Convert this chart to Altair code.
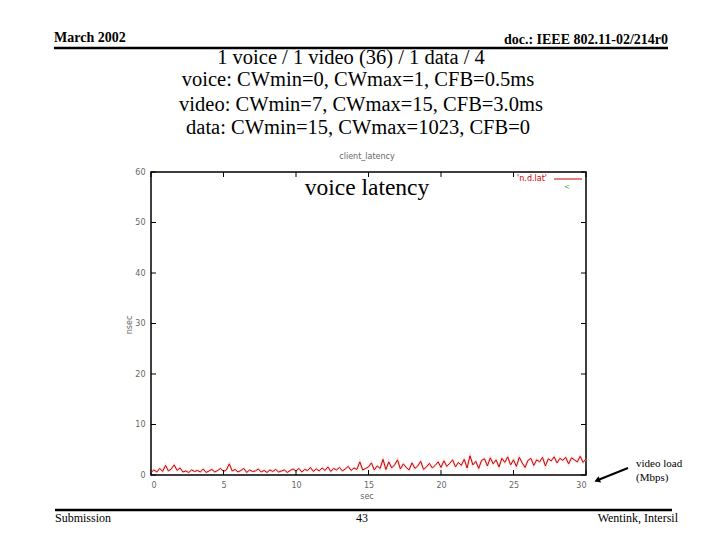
import altair as alt
import pandas as pd

# ---- data ----
t_step = 0.2
latency = [
    # 0 - 4.8 s
    0.5, 1.0, 0.6, 1.3, 0.7, 1.9, 0.8, 1.2, 2.0, 0.9, 1.4, 0.6, 0.8, 0.5, 1.0, 0.7, 0.9, 0.6, 1.2, 0.5, 0.8, 1.1, 0.6, 0.9, 1.3,
    # 5 - 9.8 s
    0.7, 1.0, 2.2, 0.8, 1.1, 0.6, 0.9, 1.3, 0.5, 1.0, 0.7, 0.8, 1.2, 0.6, 0.9, 0.5, 1.0, 0.7, 1.1, 0.6, 0.8, 1.0, 0.5, 0.9, 1.2,
    # 10 - 14.8 s
    0.8, 1.3, 0.6, 1.1, 0.9, 1.5, 0.7, 1.2, 0.8, 1.4, 0.9, 1.6, 0.7, 1.3, 1.0, 1.5, 0.8, 1.2, 1.7, 0.9, 1.4, 1.1, 2.6, 1.0, 1.3,
    # 15 - 19.8 s
    1.6, 2.4, 1.0, 1.8, 1.3, 3.1, 1.1, 2.6, 1.4, 2.0, 3.0, 1.2, 2.2, 1.5, 1.0, 2.4, 1.3, 1.8, 2.7, 1.1, 1.6, 2.3, 1.4, 1.9, 2.6,
    # 20 - 24.8 s
    1.5, 2.8, 1.7, 2.3, 3.0, 1.6, 2.5, 1.9, 3.1, 1.4, 3.8, 2.0, 2.7, 1.3, 2.9, 3.2, 1.8, 3.4, 2.2, 3.0, 1.6, 3.3, 2.5, 3.6, 2.0,
    # 25 - 30 s
    3.0, 1.7, 3.5, 2.4, 1.5, 2.9, 3.3, 1.9, 3.0, 2.6, 3.5, 1.8, 3.2, 2.8, 3.6, 2.4, 3.3, 2.9, 3.5, 2.2, 3.4, 3.0, 2.6, 3.7, 2.5, 3.2,
]
seconds = [round(i * t_step, 2) for i in range(len(latency))]
x_ticks = [0, 5, 10, 15, 20, 25, 30]
y_ticks = [0, 10, 20, 30, 40, 50, 60]

W, H = 435, 303

df = pd.DataFrame({"sec": seconds, "nsec": latency})
xt = pd.DataFrame({"v": x_ticks})
yt = pd.DataFrame({"v": y_ticks})

xs = alt.Scale(domain=[0, 30], nice=False, zero=False)
ys = alt.Scale(domain=[0, 60], nice=False)

axis_common = dict(domain=False, ticks=False, grid=False, labelFont="DejaVu Sans",
                   labelFontSize=8, labelColor="#666666", title=None)

glow = alt.Chart(df).mark_line(color="#f6b8b8", strokeWidth=2.5, opacity=0.5).encode(
    x=alt.X("sec:Q", scale=xs, axis=alt.Axis(values=x_ticks, labelPadding=6, **axis_common)),
    y=alt.Y("nsec:Q", scale=ys, axis=alt.Axis(values=y_ticks, labelPadding=6, **axis_common)),
)
line = alt.Chart(df).mark_line(color="#c80000", strokeWidth=1).encode(
    x=alt.X("sec:Q", scale=xs), y=alt.Y("nsec:Q", scale=ys)
)

# inward ticks (bottom/top, left/right)
tb = alt.Chart(xt).mark_rule(color="black").encode(x=alt.X("v:Q", scale=xs), y=alt.value(H), y2=alt.value(H - 5))
tt = alt.Chart(xt).mark_rule(color="black").encode(x=alt.X("v:Q", scale=xs), y=alt.value(0), y2=alt.value(5))
tl = alt.Chart(yt).mark_rule(color="black").encode(y=alt.Y("v:Q", scale=ys), x=alt.value(0), x2=alt.value(5))
tr = alt.Chart(yt).mark_rule(color="black").encode(y=alt.Y("v:Q", scale=ys), x=alt.value(W), x2=alt.value(W - 5))

def txt(rows, **kw):
    d = pd.DataFrame(rows, columns=["px", "py", "label"])
    return alt.Chart(d).mark_text(**kw).encode(
        x=alt.X("px:Q", scale=None), y=alt.Y("py:Q", scale=None), text="label:N"
    )

serif = "Liberation Serif"
header = txt([(-97, -134, "March 2002")], font=serif, fontSize=14, fontWeight="bold", align="left", baseline="middle")
doc = txt([(517, -132, "doc.: IEEE 802.11-02/214r0")], font=serif, fontSize=14, fontWeight="bold", align="right", baseline="middle")
titles = txt([
    (200, -114, "1 voice / 1 video (36) / 1 data / 4"),
    (207, -92, "voice: CWmin=0, CWmax=1, CFB=0.5ms"),
    (210, -67, "video: CWmin=7, CWmax=15, CFB=3.0ms"),
    (207, -44, "data: CWmin=15, CWmax=1023, CFB=0"),
], font=serif, fontSize=20.5, align="center", baseline="middle")
footer_l = txt([(-96, 346, "Submission")], font=serif, fontSize=12, align="left", baseline="middle")
footer_c = txt([(211, 346, "43")], font=serif, fontSize=12, align="center", baseline="middle")
footer_r = txt([(527, 346, "Wentink, Intersil")], font=serif, fontSize=12, align="right", baseline="middle")
video = txt([(485, 292, "video load"), (485, 306, "(Mbps)")], font=serif, fontSize=11, align="left", baseline="middle")
voice = txt([(216, 16, "voice latency")], font=serif, fontSize=23.5, align="center", baseline="middle")
gtitle = txt([(216, -15, "client_latency")], font="DejaVu Sans", fontSize=8, color="#666666", align="center", baseline="middle")
xtitle = txt([(216, 325, "sec")], font="DejaVu Sans", fontSize=8, color="#666666", align="center", baseline="middle")
ytitle = txt([(-21, 153, "nsec")], font="DejaVu Sans", fontSize=8, color="#666666", align="center", baseline="middle", angle=270)
legend_t = txt([(396, 7, "'n.d.lat'")], font="DejaVu Sans", fontSize=8, color="#cc0000", align="right", baseline="middle")
legend_g = txt([(416, 15, "<")], font="DejaVu Sans", fontSize=7, color="#33aa33", align="center", baseline="middle")

def hline(x1, x2, yv, width, color="black"):
    d = pd.DataFrame({"a": [x1], "b": [x2], "c": [yv]})
    return alt.Chart(d).mark_rule(color=color, strokeWidth=width).encode(
        x=alt.X("a:Q", scale=None), x2="b:Q", y=alt.Y("c:Q", scale=None)
    )

hdr_line = hline(-97, 517, -124, 2.5)
ftr_line = hline(-96, 521, 338, 2.5)
leg_line = hline(403, 431, 7, 1, color="#cc0000")

arrow_d = pd.DataFrame({"ax": [477, 447], "ay": [296, 308]})
arrow_line = alt.Chart(arrow_d).mark_line(color="black", strokeWidth=2).encode(
    x=alt.X("ax:Q", scale=None), y=alt.Y("ay:Q", scale=None)
)
head_d = pd.DataFrame({"ax": [447], "ay": [308]})
arrow_head = alt.Chart(head_d).mark_point(shape="triangle", filled=True, color="black", size=45, angle=248, opacity=1).encode(
    x=alt.X("ax:Q", scale=None), y=alt.Y("ay:Q", scale=None)
)

chart = alt.layer(
    glow, line, tb, tt, tl, tr,
    header, doc, titles, footer_l, footer_c, footer_r, video, voice, gtitle, xtitle, ytitle,
    legend_t, legend_g, hdr_line, ftr_line, leg_line, arrow_line, arrow_head,
).resolve_scale(x="shared", y="shared").properties(
    width=W, height=H,
    autosize=alt.AutoSizeParams(type="none"),
    padding={"left": 143, "top": 164, "right": 118, "bottom": 57},
    background="white",
).configure_view(stroke="black", strokeWidth=1.5)

chart.save("out.html", embed_options={"renderer": "svg", "actions": False})
